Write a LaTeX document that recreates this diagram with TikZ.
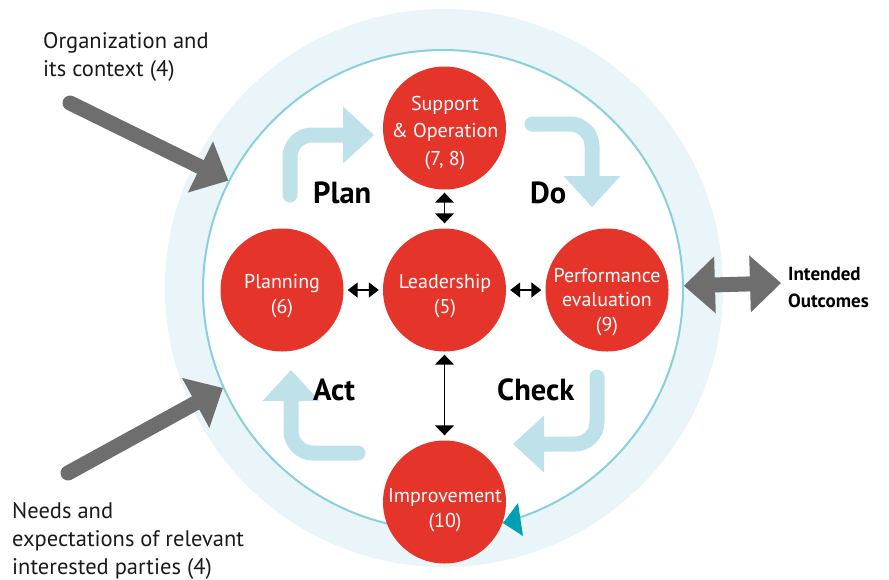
\documentclass[tikz,border=0pt]{standalone}
\usepackage{fontspec}
\setmainfont{PT Sans}
\usetikzlibrary{arrows.meta}
\definecolor{ringc}{HTML}{E9F5F8}
\definecolor{circline}{HTML}{8ACFDC}
\definecolor{tealtip}{HTML}{009FB5}
\definecolor{isored}{HTML}{E5352B}
\definecolor{grayc}{HTML}{6E6E6E}
\definecolor{pale}{HTML}{BFE2EA}
\definecolor{darktext}{HTML}{1A1A1A}
\begin{document}
\begin{tikzpicture}[x=1pt,y=-1pt,
  redc/.style={circle,fill=isored,minimum size=123pt,inner sep=0pt},
  redtxt/.style={text=white,align=center,inner sep=0pt,font=\fontsize{20}{24.5}\selectfont},
  dbl/.style={{Triangle[length=10pt,width=15pt]}-{Triangle[length=10pt,width=15pt]},line width=1.5pt,shorten <=4pt,shorten >=4pt},
  dblv/.style={{Triangle[length=10pt,width=19pt]}-{Triangle[length=10pt,width=19pt]},line width=1.5pt,shorten <=3pt,shorten >=5pt},
  grayarr/.style={line width=15pt,draw=grayc,line cap=round,-{Triangle[length=31pt,width=57pt,line width=0pt]}},
  graydbl/.style={line width=15pt,draw=grayc,{Triangle[length=31pt,width=57pt,line width=0pt]}-{Triangle[length=31pt,width=57pt,line width=0pt]}},
  pdca/.style={line width=15pt,draw=pale,line cap=round,rounded corners=22pt,-{Triangle[length=31pt,width=57pt,line width=0pt]}},
  phase/.style={anchor=base west,inner sep=0pt,text=black,font=\fontsize{30.5}{32}\selectfont\bfseries},
  ann/.style={anchor=north west,align=left,inner sep=0pt,text=darktext,font=\fontsize{22.5}{28}\selectfont}
]
\useasboundingbox (0,0) rectangle (889,579);
% rings
\node[circle,fill=ringc,minimum size=558pt,inner sep=0pt] (outer) at (444,288) {};
\node[circle,fill=white,draw=circline,line width=2pt,minimum size=480pt,inner sep=0pt] (inner) at (443,290) {};
\fill[tealtip] (503,523) -- (518,503) -- (523,536) -- cycle;
% gray arrows
\coordinate (orgtail) at (70,103);
\coordinate (needtail) at (68,473);
\coordinate (iotip) at (781,283);
\draw[grayarr] (orgtail) -- (inner.153.3);
\draw[grayarr] (needtail) -- (inner.204);
\draw[graydbl] (inner.1.7) -- (iotip);
% PDCA arrows
\draw[pdca] (290,195) -- (290,135) -- (374,135);
\draw[pdca] (532,124) -- (592,124) -- (592,207);
\draw[pdca] (597,377) -- (597,444) -- (513,444);
\draw[pdca] (358,453) -- (291,453) -- (291,370);
% red circles
\node[redc] (sup) at (444.5,128) {};
\node[redc] (lead) at (444.5,290) {};
\node[redc] (plan) at (282,290) {};
\node[redc] (perf) at (607,290) {};
\node[redc] (imp) at (444.5,502) {};
\node[redtxt,font=\fontsize{20}{27.5}\selectfont] (suptxt) at (445,133) {Support\\\& Operation\\(7, 8)};
\node[redtxt] (leadtxt) at (445,296) {Leadership\\(5)};
\node[redtxt] (plantxt) at (282,296) {Planning\\(6)};
\node[redtxt] (perftxt) at (607,302) {Performance\\evaluation\\(9)};
\node[redtxt] (imptxt) at (445,510) {Improvement\\(10)};
% black double arrows
\draw[dblv] (sup) -- (lead);
\draw[dbl] (plan) -- (lead);
\draw[dbl] (lead) -- (perf);
\draw[dblv] (lead) -- (imp);
% phase labels
\node[phase] (plbl) at (313,203) {Plan};
\node[phase] (dlbl) at (530,203) {Do};
\node[phase] (albl) at (313,400) {Act};
\node[phase] (clbl) at (497,400) {Check};
% annotations
\node[ann] (org) at (43,32) {Organization and\\its context (4)};
\node[ann] (needs) at (12,502) {Needs and\\expectations of relevant\\interested parties (4)};
\node[ann,font=\fontsize{19}{27}\selectfont\bfseries,text=black] (outc) at (788,267) {Intended\\Outcomes};
\end{tikzpicture}
\end{document}
